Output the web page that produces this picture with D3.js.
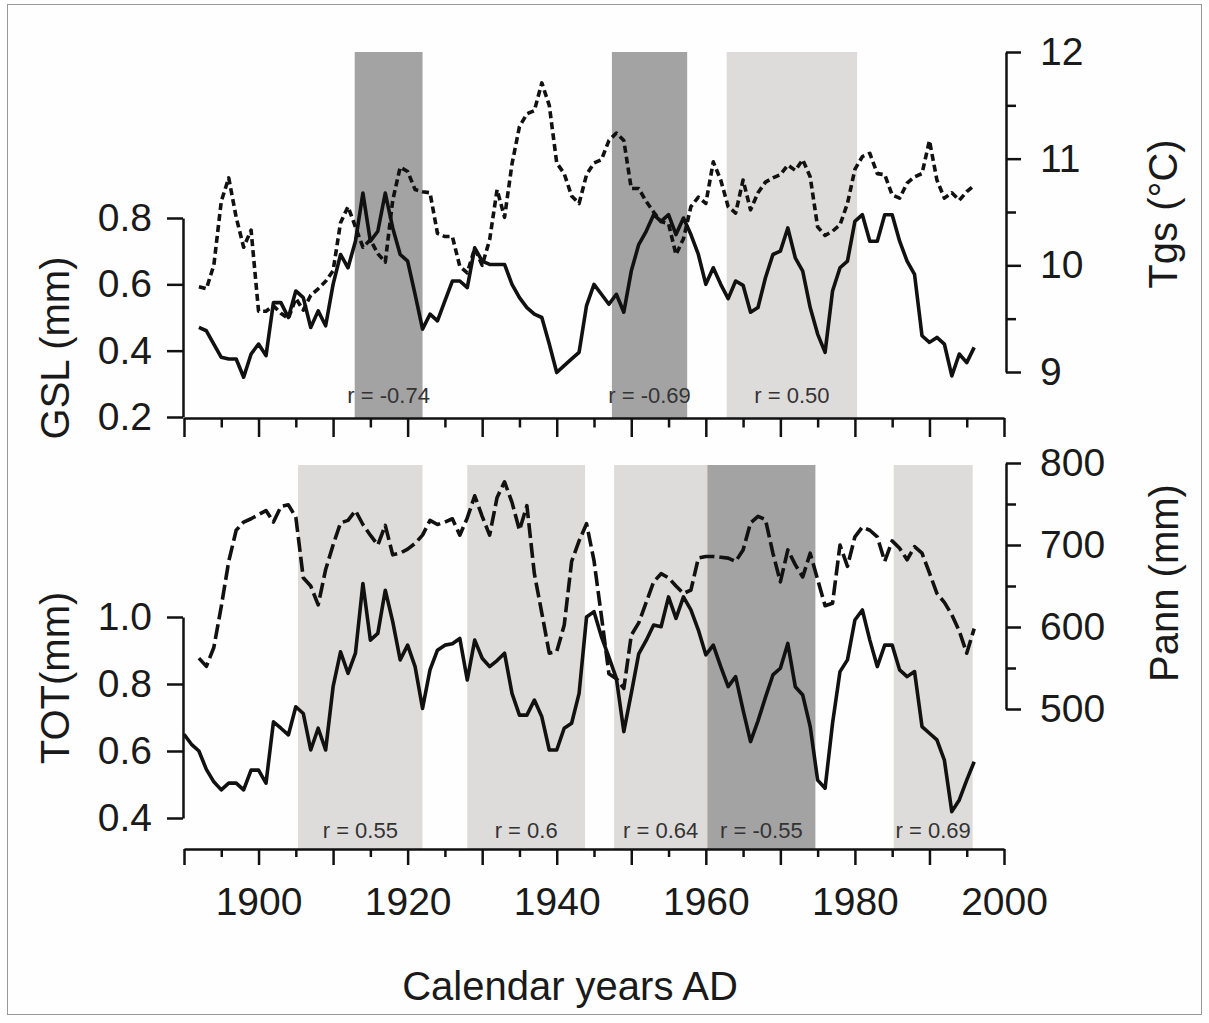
<!DOCTYPE html>
<html>
<head>
<meta charset="utf-8">
<script src="https://d3js.org/d3.v7.min.js"></script>
<style>
body { margin: 0; background: #fefefe; }
svg text { font-family: "Liberation Sans", Arial, sans-serif; fill: #1a1a1a; }
.axis path, .axis line { stroke: #111; stroke-width: 2.5px; }
.axis text { font-size: 39px; }
.rlab { font-size: 22px; fill: #333; }
.title { font-size: 40px; }
.series { fill: none; stroke: #111; stroke-width: 3.6px; stroke-linejoin: round; }
</style>
</head>
<body>
<div id="chart"></div>
<script>
  // years of the annual series
  var yearsTop = d3.range(1892, 1997);
  var yearsTot = d3.range(1890, 1997);
  var yearsPann = d3.range(1892, 1997);

  // GSL (mm), solid line, upper panel
  var gsl = [0.47, 0.46, 0.42, 0.38, 0.375, 0.375, 0.32, 0.39, 0.42, 0.385,
             0.545, 0.545, 0.50, 0.58, 0.56, 0.47, 0.52, 0.475, 0.60, 0.69,
             0.65, 0.73, 0.875, 0.73, 0.76, 0.875, 0.77, 0.69, 0.67, 0.57,
             0.465, 0.51, 0.49, 0.55, 0.61, 0.61, 0.59, 0.71, 0.67, 0.66,
             0.66, 0.66, 0.60, 0.56, 0.53, 0.51, 0.50, 0.42, 0.334, 0.355,
             0.375, 0.395, 0.536, 0.60, 0.57, 0.54, 0.57, 0.516, 0.64, 0.72,
             0.76, 0.81, 0.79, 0.81, 0.75, 0.80, 0.75, 0.69, 0.60, 0.65,
             0.60, 0.557, 0.61, 0.597, 0.516, 0.53, 0.62, 0.69, 0.70, 0.77,
             0.68, 0.64, 0.53, 0.45, 0.395, 0.58, 0.65, 0.67, 0.79, 0.81,
             0.73, 0.73, 0.81, 0.81, 0.73, 0.67, 0.63, 0.445, 0.425, 0.44,
             0.42, 0.324, 0.39, 0.364, 0.41];

  // Tgs (°C), dotted line, upper panel
  var tgs = [9.80, 9.78, 10.0, 10.6, 10.82, 10.45, 10.17, 10.33, 9.57, 9.57,
             9.62, 9.55, 9.50, 9.69, 9.58, 9.72, 9.78, 9.85, 9.95, 10.40,
             10.55, 10.36, 10.17, 10.24, 10.11, 10.03, 10.61, 10.92, 10.88, 10.71,
             10.69, 10.68, 10.30, 10.27, 10.27, 9.99, 9.93, 10.16, 10.00, 10.24,
             10.71, 10.45, 10.95, 11.30, 11.42, 11.45, 11.71, 11.50, 10.96, 10.86,
             10.65, 10.58, 10.85, 10.96, 10.99, 11.17, 11.24, 11.17, 10.72, 10.72,
             10.60, 10.50, 10.41, 10.39, 10.10, 10.25, 10.55, 10.64, 10.58, 10.97,
             10.80, 10.55, 10.49, 10.80, 10.52, 10.68, 10.78, 10.82, 10.85, 10.94,
             10.89, 10.99, 10.83, 10.36, 10.28, 10.32, 10.38, 10.58, 10.90, 11.02,
             11.05, 10.86, 10.85, 10.66, 10.63, 10.77, 10.83, 10.86, 11.17, 10.80,
             10.63, 10.68, 10.61, 10.69, 10.75];

  // TOT (mm), solid line, lower panel
  var tot = [0.65, 0.62, 0.60, 0.545, 0.508, 0.484, 0.504, 0.504, 0.484, 0.543,
             0.543, 0.504, 0.687, 0.668, 0.648, 0.732, 0.712, 0.603, 0.668, 0.603,
             0.792, 0.896, 0.832, 0.892, 1.10, 0.931, 0.951, 1.08, 0.986, 0.872,
             0.916, 0.852, 0.727, 0.842, 0.901, 0.916, 0.92, 0.936, 0.812, 0.931,
             0.877, 0.852, 0.87, 0.892, 0.772, 0.707, 0.707, 0.752, 0.702, 0.603,
             0.603, 0.668, 0.683, 0.772, 1.00, 1.016, 0.941, 0.88, 0.817, 0.658,
             0.772, 0.890, 0.93, 0.976, 0.971, 1.06, 0.996, 1.06, 1.021, 0.961,
             0.887, 0.916, 0.852, 0.792, 0.822, 0.722, 0.628, 0.690, 0.760, 0.827,
             0.847, 0.921, 0.792, 0.767, 0.673, 0.513, 0.489, 0.683, 0.837, 0.872,
             0.991, 1.021, 0.931, 0.852, 0.916, 0.916, 0.842, 0.822, 0.837, 0.673,
             0.653, 0.633, 0.573, 0.419, 0.454, 0.513, 0.568];

  // Pann (mm), dashed line, lower panel
  var pann = [562, 552, 575, 625, 680, 718, 728, 732, 737, 742,
              728, 747, 749, 734, 660, 650, 627, 670, 700, 727,
              730, 742, 725, 712, 700, 724, 688, 690, 695, 702,
              712, 730, 725, 728, 732, 712, 733, 760, 735, 712,
              758, 777, 752, 718, 748, 665, 617, 568, 570, 602,
              680, 705, 726, 681, 613, 543, 537, 525, 590, 605,
              630, 655, 665, 660, 650, 641, 645, 684, 686, 686,
              685, 684, 680, 694, 727, 735, 731, 690, 655, 694,
              676, 661, 690, 658, 626, 629, 700, 674, 710, 722,
              718, 710, 680, 705, 696, 682, 698, 690, 666, 641,
              630, 615, 595, 568, 598];

  // correlation windows: start, end, shade, label
  var bandStartTop = [1912.9, 1947.4, 1962.8];
  var bandEndTop = [1922.0, 1957.5, 1980.3];
  var bandDarkTop = [true, true, false];
  var bandLabelTop = ["r = -0.74", "r = -0.69", "r = 0.50"];

  var bandStartBot = [1905.3, 1928.0, 1947.7, 1960.2, 1985.2];
  var bandEndBot = [1922.0, 1943.8, 1960.2, 1974.7, 1995.8];
  var bandDarkBot = [false, false, false, true, false];
  var bandLabelBot = ["r = 0.55", "r = 0.6", "r = 0.64", "r = -0.55", "r = 0.69"];

  var xTickYears = [1890, 1900, 1910, 1920, 1930, 1940, 1950, 1960, 1970, 1980, 1990, 2000];
  var xMinorYears = [1895, 1905, 1915, 1925, 1935, 1945, 1955, 1965, 1975, 1985, 1995];
  var xLabelYears = [1900, 1920, 1940, 1960, 1980, 2000];
  var gslTicks = [0.2, 0.4, 0.6, 0.8];
  var totTicks = [0.4, 0.6, 0.8, 1.0];
  var tgsTicks = [9, 10, 11, 12];
  var tgsMinor = [9.5, 10.5, 11.5];
  var pannTicks = [500, 600, 700, 800];
  var pannMinor = [550, 650, 750];

  var width = 1209, height = 1023;
  var svg = d3.select("#chart").append("svg").attr("width", width).attr("height", height);

  svg.append("rect").attr("x", 7.5).attr("y", 4.5).attr("width", 1194).attr("height", 1010)
     .attr("fill", "#fefefe").attr("stroke", "#999").attr("stroke-width", 1);

  var x = d3.scaleLinear().domain([1890, 2000]).range([184, 1004]);
  var yGsl = d3.scaleLinear().domain([0.2, 0.8]).range([417, 218]);
  var yTgs = d3.scaleLinear().domain([9, 12]).range([372, 52]);
  var yTot = d3.scaleLinear().domain([0.4, 1.0]).range([818, 617]);
  var yPann = d3.scaleLinear().domain([500, 800]).range([709, 463]);

  var topBase = 418, botBase = 849;
  var leftX = 183, rightX = 1006;

  function drawBands(starts, ends, dark, labels, yTop, yBot, labelY) {
    starts.forEach(function(s, i) {
      svg.append("rect")
         .attr("x", x(s)).attr("y", yTop)
         .attr("width", x(ends[i]) - x(s)).attr("height", yBot - yTop)
         .attr("fill", dark[i] ? "#a3a3a3" : "#dedcdb");
    });
    starts.forEach(function(s, i) {
      svg.append("text").attr("class", "rlab")
         .attr("x", (x(s) + x(ends[i])) / 2).attr("y", labelY)
         .attr("text-anchor", "middle").text(labels[i]);
    });
  }
  drawBands(bandStartTop, bandEndTop, bandDarkTop, bandLabelTop, 52, topBase, 403);
  drawBands(bandStartBot, bandEndBot, bandDarkBot, bandLabelBot, 465, botBase, 838);

  function drawLine(years, vals, yScale, dash) {
    var line = d3.line()
       .x(function(d, i) { return x(years[i]); })
       .y(function(d) { return yScale(d); });
    var p = svg.append("path").attr("class", "series").attr("d", line(vals));
    if (dash) p.attr("stroke-dasharray", dash);
  }
  drawLine(yearsTop, tgs, yTgs, "7,4");
  drawLine(yearsTop, gsl, yGsl, null);
  drawLine(yearsPann, pann, yPann, "15,5");
  drawLine(yearsTot, tot, yTot, null);

  // x axes
  function xAxis(yPos, labels, bigTick) {
    svg.append("g").attr("class", "axis").attr("transform", "translate(0," + yPos + ")")
      .call(d3.axisBottom(x).tickValues(xTickYears).tickSize(bigTick).tickSizeOuter(0)
        .tickPadding(22)
        .tickFormat(function(d) { return (labels && xLabelYears.indexOf(d) >= 0) ? d : ""; }));
    svg.append("g").attr("class", "axis").attr("transform", "translate(0," + yPos + ")")
      .call(d3.axisBottom(x).tickValues(xMinorYears).tickSize(bigTick / 2).tickFormat(""))
      .select(".domain").remove();
  }
  xAxis(topBase, false, 19);
  xAxis(botBase, true, 16);

  // left axes
  svg.append("g").attr("class", "axis").attr("transform", "translate(" + leftX + ",0)")
     .call(d3.axisLeft(yGsl).tickValues(gslTicks).tickSize(16).tickPadding(15)
       .tickSizeOuter(0).tickFormat(d3.format(".1f")));
  svg.append("g").attr("class", "axis").attr("transform", "translate(" + leftX + ",0)")
     .call(d3.axisLeft(yTot).tickValues(totTicks).tickSize(16).tickPadding(15)
       .tickSizeOuter(0).tickFormat(d3.format(".1f")));

  // right axes
  function rightAxis(scale, major, minor) {
    svg.append("g").attr("class", "axis").attr("transform", "translate(" + rightX + ",0)")
       .call(d3.axisRight(scale).tickValues(major).tickSize(15).tickPadding(19)
         .tickSizeOuter(0).tickFormat(d3.format("d")));
    svg.append("g").attr("class", "axis").attr("transform", "translate(" + rightX + ",0)")
       .call(d3.axisRight(scale).tickValues(minor).tickSize(10).tickFormat(""))
       .select(".domain").remove();
  }
  rightAxis(yTgs, tgsTicks, tgsMinor);
  rightAxis(yPann, pannTicks, pannMinor);

  // axis titles
  function vTitle(tx, ty, txt) {
    svg.append("text").attr("class", "title").attr("text-anchor", "middle")
       .attr("transform", "translate(" + tx + "," + ty + ") rotate(-90)").text(txt);
  }
  vTitle(69, 348, "GSL (mm)");
  vTitle(69, 678, "TOT(mm)");
  vTitle(1177, 214, "Tgs (\u00B0C)");
  vTitle(1178, 583, "Pann (mm)");

  svg.append("text").attr("class", "title").attr("text-anchor", "middle")
     .attr("x", 570).attr("y", 1000).text("Calendar years AD");
</script>
</body>
</html>
